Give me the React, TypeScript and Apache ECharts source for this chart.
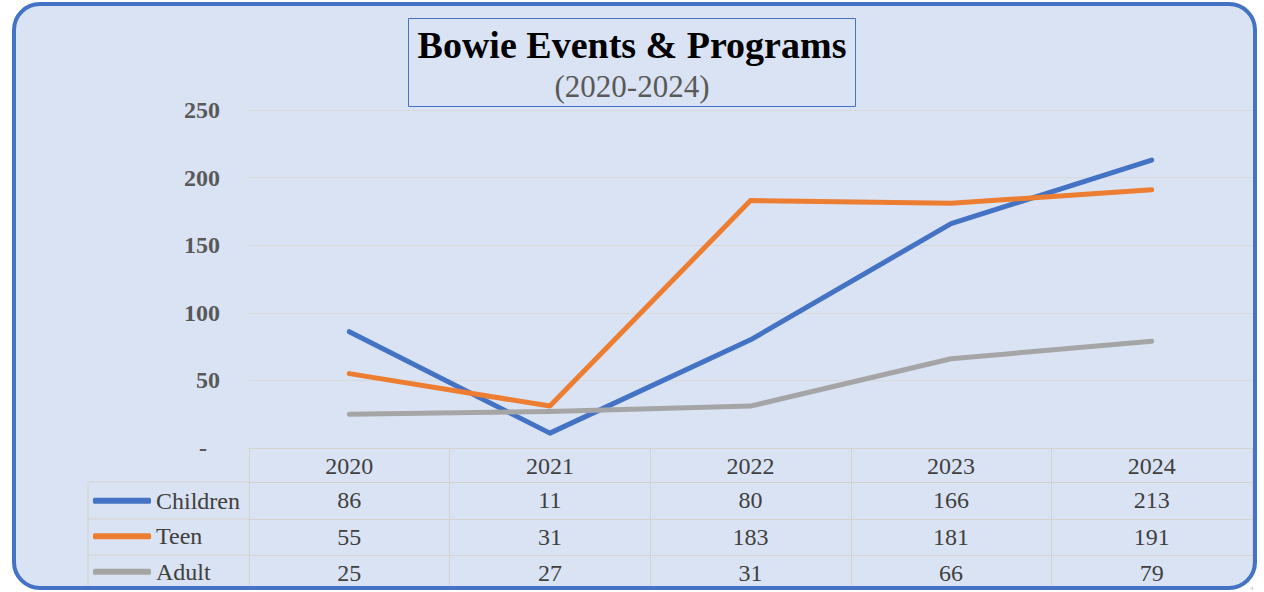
import React, { useEffect, useRef } from "react";
import * as echarts from "echarts";

const years = ["2020", "2021", "2022", "2023", "2024"];
const children = [86, 11, 80, 166, 213];
const teen = [55, 31, 183, 181, 191];
const adult = [25, 27, 31, 66, 79];
const seriesNames = ["Children", "Teen", "Adult"];
const yTicks = { min: 0, max: 250, interval: 50 };

const FONT = "'Liberation Serif', 'Times New Roman', serif";
const TABLE_LINE = "#d6d2ce";
const TEXT = "#404040";

export default function App() {
  const ref = useRef<HTMLDivElement>(null);
  useEffect(() => {
    if (!ref.current) return;
    const chart = echarts.init(ref.current, undefined, { renderer: "svg" });
    const rowData = [children, teen, adult];
    const rowAxes = rowData.map((arr, k) => ({
      type: "category" as const,
      gridIndex: 0,
      position: "bottom" as const,
      offset: [34, 71, 107][k],
      data: years,
      boundaryGap: true,
      axisLine: { show: true, lineStyle: { color: TABLE_LINE, width: 1 } },
      axisTick: { show: false },
      splitLine: { show: false },
      axisLabel: {
        interval: 0,
        margin: 6,
        fontSize: 24,
        fontFamily: FONT,
        color: TEXT,
        formatter: (_v: string, i: number) => String(arr[i]),
      },
    }));
    const bottomAxis = {
      type: "category" as const,
      gridIndex: 0,
      position: "bottom" as const,
      offset: 140,
      data: years,
      axisLine: { show: true, lineStyle: { color: TABLE_LINE, width: 1 } },
      axisTick: { show: false },
      axisLabel: { show: false },
      splitLine: { show: false },
    };
    const leftX = 88;
    const plotLeft = 249;
    const rowYs = [482, 519, 555, 588];
    chart.setOption({
      animation: false,
      backgroundColor: "transparent",
      color: ["#4472c4", "#ed7d31", "#a5a5a5"],
      title: {
        text: "Bowie Events & Programs",
        subtext: "(2020-2024)",
        left: "center",
        top: 18,
        padding: [6, 9, 4, 9],
        itemGap: 3,
        borderColor: "#4472c4",
        borderWidth: 1,
        textStyle: {
          fontFamily: FONT,
          fontSize: 38,
          fontWeight: "bold",
          color: "#000000",
          lineHeight: 42,
        },
        subtextStyle: {
          fontFamily: FONT,
          fontSize: 31,
          color: "#595959",
          lineHeight: 34,
        },
      },
      legend: {
        data: seriesNames,
        orient: "vertical",
        left: 93,
        top: 483,
        height: 130,
        padding: 0,
        itemWidth: 58,
        itemHeight: 6,
        itemGap: 0,
        icon: "roundRect",
        textStyle: {
          fontFamily: FONT,
          fontSize: 24,
          color: TEXT,
          lineHeight: 35.5,
        },
      },
      grid: { left: plotLeft, right: 12, top: 110, bottom: 144, containLabel: false },
      xAxis: [
        {
          type: "category",
          data: years,
          boundaryGap: true,
          axisLine: { show: true, lineStyle: { color: TABLE_LINE, width: 1 } },
          axisTick: {
            show: true,
            interval: 0,
            length: 142,
            lineStyle: { color: TABLE_LINE, width: 1 },
          },
          splitLine: { show: false },
          axisLabel: {
            interval: 0,
            margin: 6,
            fontSize: 24,
            fontFamily: FONT,
            color: TEXT,
          },
        },
        ...rowAxes,
        bottomAxis,
      ],
      yAxis: {
        type: "value",
        min: yTicks.min,
        max: yTicks.max,
        interval: yTicks.interval,
        axisLine: { show: false },
        axisTick: { show: false },
        splitLine: { show: true, lineStyle: { color: "#d9d9d9", width: 1 } },
        axisLabel: {
          margin: 29,
          fontSize: 24,
          fontWeight: "bold",
          fontFamily: FONT,
          color: "#595959",
          formatter: (v: number) => (v === 0 ? "{d|-}" : String(v)),
          rich: {
            d: {
              fontSize: 24,
              fontWeight: "bold",
              fontFamily: FONT,
              color: "#595959",
              padding: [0, 13, 0, 0],
            },
          },
        },
      },
      graphic: [
        {
          type: "line",
          shape: { x1: leftX, y1: rowYs[0], x2: leftX, y2: rowYs[3] },
          style: { stroke: TABLE_LINE, lineWidth: 1 },
          silent: true,
        },
        ...rowYs.map((y) => ({
          type: "line",
          shape: { x1: leftX, y1: y, x2: plotLeft, y2: y },
          style: { stroke: TABLE_LINE, lineWidth: 1 },
          silent: true,
        })),
      ],
      series: [
        { name: "Children", data: children },
        { name: "Teen", data: teen },
        { name: "Adult", data: adult },
      ].map((s) => ({
        ...s,
        type: "line",
        xAxisIndex: 0,
        symbol: "none",
        lineStyle: { width: 5, cap: "round", join: "round" },
      })),
    });
    return () => chart.dispose();
  }, []);

  const card = {
    position: "absolute" as const,
    left: 12,
    top: 2,
    width: 1245,
    height: 588,
    boxSizing: "border-box" as const,
    borderRadius: 28,
  };

  return (
    <div style={{ position: "absolute", left: 0, top: 0, width: 1264, height: 592, background: "#ffffff", overflow: "hidden" }}>
      <div style={{ ...card, background: "#dae3f3" }} />
      <div ref={ref} style={{ position: "absolute", left: 0, top: 0, width: 1264, height: 592 }} />
      <div
        style={{
          ...card,
          border: "4.5px solid #4472c4",
          background: "transparent",
          pointerEvents: "none",
          boxShadow: "0 0 0 6px #ffffff",
        }}
      />
    </div>
  );
}
